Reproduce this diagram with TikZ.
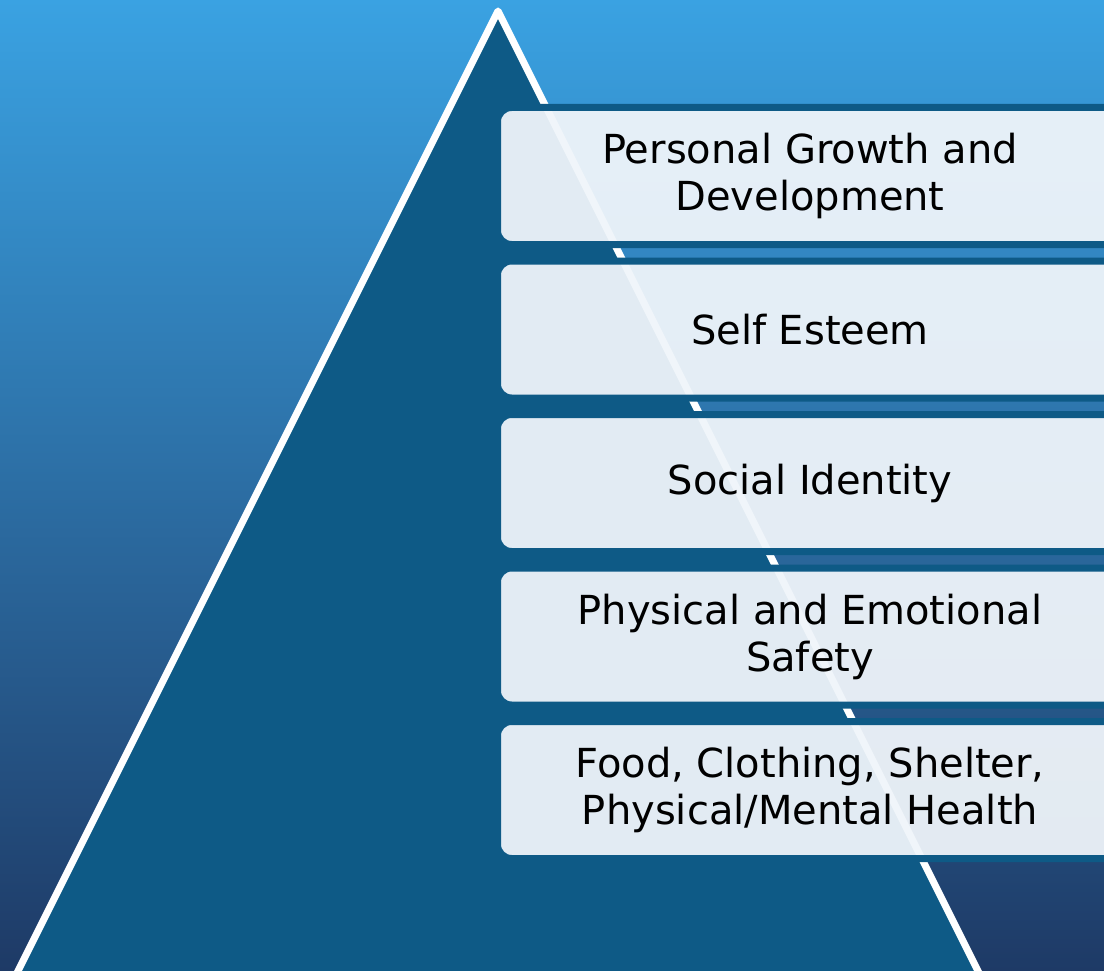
\documentclass[tikz,border=0pt]{standalone}
\usepackage{fontspec}
\setmainfont{DejaVu Sans}
\usepackage{tikz}
\usepackage{xcolor}
\definecolor{skytop}{HTML}{3AA2E2}
\definecolor{skybottom}{HTML}{1E3A66}
\definecolor{pyramid}{HTML}{0E5A86}
\definecolor{panel}{HTML}{F0F5FA}

\begin{document}
\begin{tikzpicture}[x=1pt,y=-1pt,
        level/.style={draw=pyramid,line width=7pt,fill=panel,fill opacity=0.94,text opacity=1,
            rounded corners=14pt,minimum width=625pt,minimum height=137pt,inner sep=0pt,
            outer sep=0pt,align=center,font=\fontsize{40}{47}\selectfont}]
        \useasboundingbox (0,0) rectangle (1104,971);
        \clip (0,0) rectangle (1104,971);
        \shade[top color=skytop,bottom color=skybottom] (0,0) rectangle (1104,971);
        \draw[white,line width=7pt,line join=round,fill=pyramid] (498,11) -- (16,975) -- (980,975) -- cycle;
        \draw (810,176) node[level](growth) {Personal Growth and\\Development};
        \draw (810,329.5) node[level](esteem) {Self Esteem};
        \draw (810,483) node[level](identity) {Social Identity};
        \draw (810,636.5) node[level](safety) {Physical and Emotional\\Safety};
        \draw (810,790) node[level](basics) {Food, Clothing, Shelter,\\Physical/Mental Health};
    \end{tikzpicture}
\end{document}
